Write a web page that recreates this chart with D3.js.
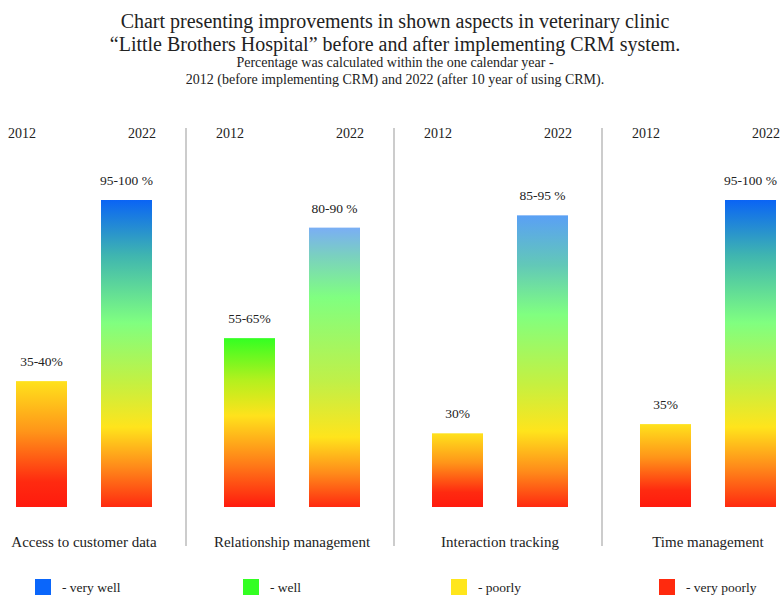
<!DOCTYPE html>
<html>
<head>
<meta charset="utf-8">
<script src="https://cdn.jsdelivr.net/npm/d3@7"></script>
<style>
  body { margin: 0; background: #fff; }
  text { font-family: "Liberation Serif", "Times New Roman", serif; fill: #222; }
</style>
</head>
<body>
<div id="wrapper"></div>
<script>
// data
const categories = ["Access to customer data", "Relationship management", "Interaction tracking", "Time management"];
const years = ["2012", "2022"];
const values2012 = [41, 55, 24, 27];
const values2022 = [100, 91, 95, 100];
const labels2012 = ["35-40%", "55-65%", "30%", "35%"];
const labels2022 = ["95-100 %", "80-90 %", "85-95 %", "95-100 %"];
const rating2012 = ["poorly", "well", "poorly", "poorly"];
const rating2022 = ["top", "high", "high2", "top"];
const legendLabels = ["- very well", "- well", "- poorly", "- very poorly"];
const titleLines = [
  "Chart presenting improvements in shown aspects in veterinary clinic",
  "\u201cLittle Brothers Hospital\u201d before and after implementing CRM system."
];
const subtitleLines = [
  "Percentage was calculated within the one calendar year -",
  "2012 (before implementing CRM) and 2022 (after 10 year of using CRM)."
];

const legendColors = ["#0a66fb", "#33ff22", "#ffe61c", "#ff2a0e"];

dimensions = {
  width: 782,
  height: 595,
  baseline: 507,
  top: 200
}

const wrapper = d3.select("#wrapper").append("svg")
  .attr("width", dimensions.width)
  .attr("height", dimensions.height);

// titles
wrapper.selectAll(".title")
  .data(titleLines)
  .enter().append("text")
  .attr("class", "title")
  .attr("x", 395)
  .attr("y", (d, i) => 28 + i * 23)
  .attr("text-anchor", "middle")
  .style("font-size", "20px")
  .text(d => d);

wrapper.selectAll(".subtitle")
  .data(subtitleLines)
  .enter().append("text")
  .attr("class", "subtitle")
  .attr("x", 395)
  .attr("y", (d, i) => 67 + i * 17)
  .attr("text-anchor", "middle")
  .style("font-size", "14px")
  .text(d => d);

// scales
const xScale = d3.scaleBand().domain(categories).range([-20, 812]);
const groupOffset = 36;
const inner = d3.scaleBand().domain(years).range([0, 136]).paddingInner(0.4);
const yScale = d3.scaleLinear().domain([0, 100]).range([dimensions.baseline, dimensions.top]);

const groupLeft = c => xScale(c) + groupOffset;

// gradients, one per rating, bottom to top
const defs = wrapper.append("defs");
const stopSets = {
  "2012-poorly": [[0, "#ff1a0e"], [0.2, "#ff2a10"], [0.6, "#ff9519"], [1, "#ffe21c"]],
  "2012-well": [[0, "#ff1a0e"], [0.25, "#ff7a18"], [0.54, "#ffe21c"], [0.75, "#b4f01e"], [1, "#33ff22"]],
  "2022-top": [[0, "#ff2a10"], [0.13, "#ff8a1a"], [0.26, "#ffe41c"], [0.40, "#c6f040"],
               [0.60, "#80ff80"], [0.82, "#3fb5b0"], [1, "#0a64f5"]],
  "2022-high": [[0, "#ff2a10"], [0.12, "#ff8a1a"], [0.25, "#ffe41c"], [0.45, "#c0f048"],
                [0.75, "#80ff80"], [0.9, "#7ad0c0"], [1, "#7aaef5"]],
  "2022-high2": [[0, "#ff2a10"], [0.12, "#ff8a1a"], [0.26, "#ffe41c"], [0.42, "#c6f040"],
                 [0.66, "#80ff80"], [0.83, "#62c8b8"], [1, "#5aa0f5"]]
};
Object.keys(stopSets).forEach(k => {
  const g = defs.append("linearGradient")
    .attr("id", "grad" + k)
    .attr("x1", 0).attr("x2", 0).attr("y1", 1).attr("y2", 0);
  g.selectAll("stop")
    .data(stopSets[k])
    .enter().append("stop")
    .attr("offset", d => d[0])
    .attr("stop-color", d => d[1]);
});

// separators
wrapper.selectAll(".sep")
  .data(categories.slice(1))
  .enter().append("line")
  .attr("class", "sep")
  .attr("x1", d => xScale(d) - 2)
  .attr("x2", d => xScale(d) - 2)
  .attr("y1", 128)
  .attr("y2", 546)
  .attr("stroke", "#bbbbbb")
  .attr("stroke-width", 1.5);

// year labels
categories.forEach(c => {
  wrapper.append("text")
    .attr("x", groupLeft(c) + inner("2012") - 8)
    .attr("y", 138)
    .style("font-size", "14px")
    .text("2012");
  wrapper.append("text")
    .attr("x", groupLeft(c) + inner("2022") + inner.bandwidth() + 4)
    .attr("y", 138)
    .attr("text-anchor", "end")
    .style("font-size", "14px")
    .text("2022");
});

// bars 2012
wrapper.selectAll(".bar2012")
  .data(categories)
  .enter().append("rect")
  .attr("class", "bar2012")
  .attr("x", d => groupLeft(d) + inner("2012"))
  .attr("y", (d, i) => yScale(values2012[i]))
  .attr("width", inner.bandwidth())
  .attr("height", (d, i) => yScale(0) - yScale(values2012[i]))
  .attr("fill", (d, i) => `url(#grad2012-${rating2012[i]})`);

// bars 2022
wrapper.selectAll(".bar2022")
  .data(categories)
  .enter().append("rect")
  .attr("class", "bar2022")
  .attr("x", d => groupLeft(d) + inner("2022"))
  .attr("y", (d, i) => yScale(values2022[i]))
  .attr("width", inner.bandwidth())
  .attr("height", (d, i) => yScale(0) - yScale(values2022[i]))
  .attr("fill", (d, i) => `url(#grad2022-${rating2022[i]})`);

// value labels
wrapper.selectAll(".lab2012")
  .data(categories)
  .enter().append("text")
  .attr("class", "lab2012")
  .attr("x", d => groupLeft(d) + inner("2012") + inner.bandwidth() / 2)
  .attr("y", (d, i) => yScale(values2012[i]) - 15)
  .attr("text-anchor", "middle")
  .style("font-size", "13.5px")
  .text((d, i) => labels2012[i]);

wrapper.selectAll(".lab2022")
  .data(categories)
  .enter().append("text")
  .attr("class", "lab2022")
  .attr("x", d => groupLeft(d) + inner("2022") + inner.bandwidth() / 2)
  .attr("y", (d, i) => yScale(values2022[i]) - 15)
  .attr("text-anchor", "middle")
  .style("font-size", "13.5px")
  .text((d, i) => labels2022[i]);

// category labels
wrapper.selectAll(".cat")
  .data(categories)
  .enter().append("text")
  .attr("class", "cat")
  .attr("x", d => groupLeft(d) + 68)
  .attr("y", 547)
  .attr("text-anchor", "middle")
  .style("font-size", "15px")
  .text(d => d);

// legend
const legend = wrapper.selectAll(".legend")
  .data(legendLabels)
  .enter().append("g")
  .attr("class", "legend")
  .attr("transform", (d, i) => `translate(${xScale(categories[i]) + 55}, 579)`);
legend.append("rect")
  .attr("width", 16)
  .attr("height", 16)
  .attr("fill", (d, i) => legendColors[i]);
legend.append("text")
  .attr("x", 27)
  .attr("y", 13)
  .style("font-size", "13.5px")
  .text(d => d);
</script>
</body>
</html>
